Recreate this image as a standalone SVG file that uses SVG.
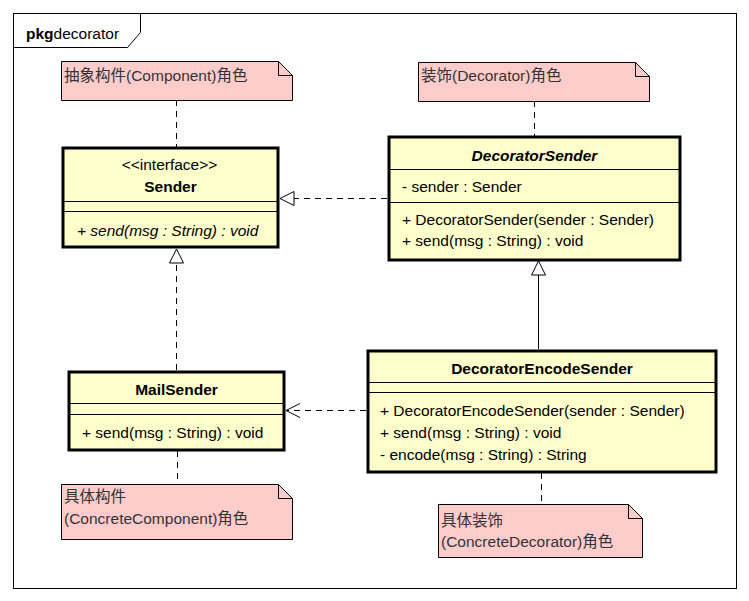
<svg xmlns="http://www.w3.org/2000/svg" width="749" height="601" viewBox="0 0 749 601">
<style>
text{font-family:"Liberation Sans",Arial,"Noto Sans CJK SC",sans-serif;font-size:15.5px;fill:#000}
.note rect,.note path.b{fill:#ffcccc;stroke:#000;stroke-width:1}
.note text{fill:#333}
.cls .box{fill:#ffffcc;stroke:#000;stroke-width:3}
.cls line{stroke:#000;stroke-width:1}
.b{font-weight:bold}
.i{font-style:italic}
.mid{text-anchor:middle}
.dash{stroke:#000;stroke-width:1;fill:none;stroke-dasharray:6,5}
.solid{stroke:#000;stroke-width:1;fill:none}
</style>
<defs>
<marker id="tri" markerWidth="16" markerHeight="16" refX="15" refY="8" orient="auto" markerUnits="userSpaceOnUse">
<path d="M1,1 L15,8 L1,15 Z" fill="#fff" stroke="#000" stroke-width="1"/>
</marker>
<marker id="open" markerWidth="16" markerHeight="16" refX="15" refY="8" orient="auto" markerUnits="userSpaceOnUse">
<path d="M1,1 L15,8 L1,15" fill="none" stroke="#000" stroke-width="1"/>
</marker>
</defs>
<rect width="749" height="601" fill="#fff"/>
<g id="frame">
<rect x="13.5" y="13.5" width="723" height="575" fill="none" stroke="#000"/>
<path d="M13.5,47.5 H127.5 L140.5,32.5 V13.5" fill="none" stroke="#000"/>
<text x="26" y="39"><tspan class="b">pkg</tspan>decorator</text>
</g>
<g id="connectors">
<line class="dash" x1="176.5" y1="100" x2="176.5" y2="147"/>
<line class="dash" x1="534.5" y1="101" x2="534.5" y2="136"/>
<line class="dash" x1="177.5" y1="451" x2="177.5" y2="484"/>
<line class="dash" x1="541.5" y1="473" x2="541.5" y2="504"/>
<line class="dash" x1="387" y1="198.5" x2="280" y2="198.5" marker-end="url(#tri)"/>
<line class="dash" x1="176.5" y1="370" x2="176.5" y2="249" marker-end="url(#tri)"/>
<line class="solid" x1="538.5" y1="349" x2="538.5" y2="261" marker-end="url(#tri)"/>
<line class="dash" x1="366" y1="410.5" x2="286" y2="410.5" marker-end="url(#open)"/>
</g>
<g id="note1" class="note">
<path class="b" d="M61.5,61.5 H278.5 L292.5,75.5 V100.5 H61.5 Z"/>
<path d="M278.5,61.5 V75.5 H292.5" fill="none" stroke="#000"/>
<text x="64" y="81">抽象构件(Component)角色</text>
</g>
<g id="note2" class="note">
<path class="b" d="M418.5,62.5 H635.5 L649.5,76.5 V101.5 H418.5 Z"/>
<path d="M635.5,62.5 V76.5 H649.5" fill="none" stroke="#000"/>
<text x="421" y="81">装饰(Decorator)角色</text>
</g>
<g id="note3" class="note">
<path class="b" d="M61.5,484.5 H278.5 L292.5,498.5 V539.5 H61.5 Z"/>
<path d="M278.5,484.5 V498.5 H292.5" fill="none" stroke="#000"/>
<text x="64" y="502">具体构件</text>
<text x="64" y="524">(ConcreteComponent)角色</text>
</g>
<g id="note4" class="note">
<path class="b" d="M438.5,504.5 H628.5 L642.5,518.5 V557.5 H438.5 Z"/>
<path d="M628.5,504.5 V518.5 H642.5" fill="none" stroke="#000"/>
<text x="441" y="526">具体装饰</text>
<text x="441" y="547">(ConcreteDecorator)角色</text>
</g>
<g id="Sender" class="cls">
<rect class="box" x="63" y="148" width="215" height="99"/>
<line x1="63" y1="201.5" x2="278" y2="201.5"/>
<line x1="63" y1="211.5" x2="278" y2="211.5"/>
<text class="mid" x="169.5" y="170">&lt;&lt;interface&gt;&gt;</text>
<text class="mid b" x="170.5" y="192">Sender</text>
<text class="i" x="77" y="236">+ send(msg : String) : void</text>
</g>
<g id="DecoratorSender" class="cls">
<rect class="box" x="389" y="137" width="291" height="123"/>
<line x1="389" y1="169.5" x2="680" y2="169.5"/>
<line x1="389" y1="202.5" x2="680" y2="202.5"/>
<text class="mid b i" x="534.5" y="161">DecoratorSender</text>
<text x="402" y="192">- sender : Sender</text>
<text x="402" y="225">+ DecoratorSender(sender : Sender)</text>
<text x="402" y="246">+ send(msg : String) : void</text>
</g>
<g id="MailSender" class="cls">
<rect class="box" x="69" y="372" width="215" height="78"/>
<line x1="69" y1="403.5" x2="284" y2="403.5"/>
<line x1="69" y1="414.5" x2="284" y2="414.5"/>
<text class="mid b" x="176.5" y="395">MailSender</text>
<text x="82" y="438">+ send(msg : String) : void</text>
</g>
<g id="DecoratorEncodeSender" class="cls">
<rect class="box" x="368" y="351" width="348" height="121"/>
<line x1="368" y1="382.5" x2="716" y2="382.5"/>
<line x1="368" y1="392.5" x2="716" y2="392.5"/>
<text class="mid b" x="542" y="374">DecoratorEncodeSender</text>
<text x="380" y="416">+ DecoratorEncodeSender(sender : Sender)</text>
<text x="380" y="438">+ send(msg : String) : void</text>
<text x="380" y="460">- encode(msg : String) : String</text>
</g>
</svg>
